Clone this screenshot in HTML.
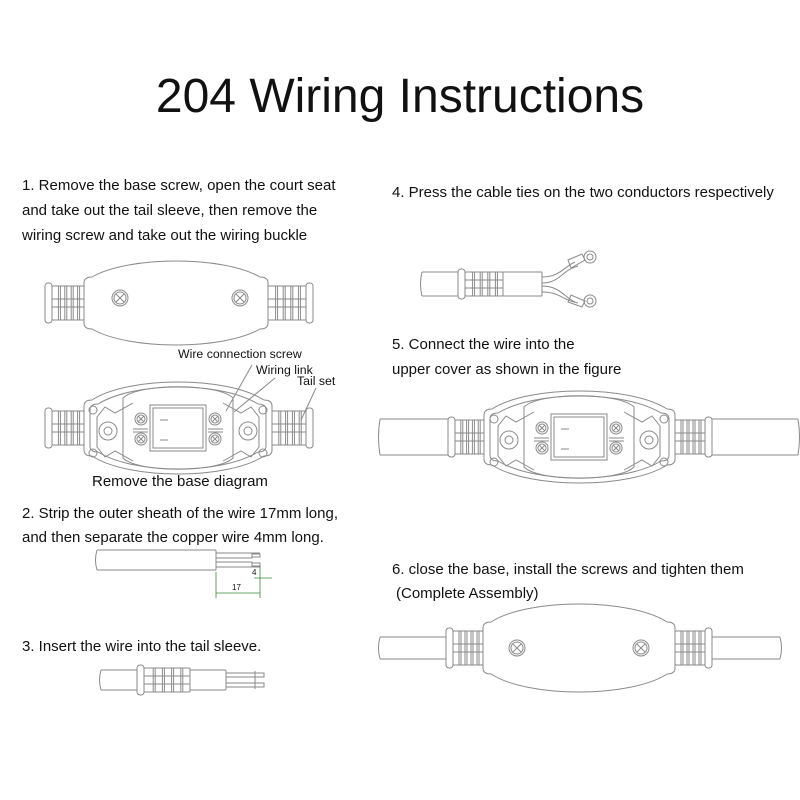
<!DOCTYPE html>
<html><head><meta charset="utf-8"><style>
body{margin:0;background:#fff;}
svg{display:block}
text{font-family:"Liberation Sans",sans-serif;fill:#111}
</style></head><body>
<svg id="s" width="800" height="800" viewBox="0 0 800 800" xmlns="http://www.w3.org/2000/svg">
<rect width="800" height="800" fill="#fff"/>
<text x="400" y="112" font-size="48" text-anchor="middle">204 Wiring Instructions</text>
<g font-size="15">
<text x="22" y="190">1. Remove the base screw, open the court seat</text>
<text x="22" y="215">and take out the tail sleeve, then remove the</text>
<text x="22" y="240">wiring screw and take out the wiring buckle</text>
<text x="392" y="197">4. Press the cable ties on the two conductors respectively</text>
<text x="392" y="349">5. Connect the wire into the</text>
<text x="392" y="374">upper cover as shown in the figure</text>
<text x="92" y="486">Remove the base diagram</text>
<text x="22" y="518">2. Strip the outer sheath of the wire 17mm long,</text>
<text x="22" y="542">and then separate the copper wire 4mm long.</text>
<text x="392" y="574">6. close the base, install the screws and tighten them</text>
<text x="396" y="598">(Complete Assembly)</text>
<text x="22" y="651">3. Insert the wire into the tail sleeve.</text>
</g>
<g font-size="12.3">
<text x="178" y="358">Wire connection screw</text>
<text x="256" y="374">Wiring link</text>
<text x="297" y="385">Tail set</text>
</g>
<g id="g" fill="none" stroke="#8a8a8a" stroke-width="1"></g>
</svg>
<script>
var g=document.getElementById('g'),o='';
function P(d,extra){o+='<path d="'+d+'" '+(extra||'')+'/>';}
function R(x,y,w,h,rx){o+='<rect x="'+x+'" y="'+y+'" width="'+w+'" height="'+h+'" rx="'+(rx||0)+'"/>';}
function C(x,y,r){o+='<circle cx="'+x+'" cy="'+y+'" r="'+r+'"/>';}
function L(a,b,c,d){o+='<line x1="'+a+'" y1="'+b+'" x2="'+c+'" y2="'+d+'"/>';}
function body(Lx,Rx,cy,hs,ht){var k=hs+(ht-hs)/0.75;
P('M'+Lx+','+(cy-hs+6)+' Q'+Lx+','+(cy-hs)+' '+(Lx+8)+','+(cy-hs)+' C'+(Lx+45)+','+(cy-k)+' '+(Rx-45)+','+(cy-k)+' '+(Rx-8)+','+(cy-hs)+' Q'+Rx+','+(cy-hs)+' '+Rx+','+(cy-hs+6)+' L'+Rx+','+(cy+hs-6)+' Q'+Rx+','+(cy+hs)+' '+(Rx-8)+','+(cy+hs)+' C'+(Rx-45)+','+(cy+k)+' '+(Lx+45)+','+(cy+k)+' '+(Lx+8)+','+(cy+hs)+' Q'+Lx+','+(cy+hs)+' '+Lx+','+(cy+hs-6)+' Z');}
function screw(x,y,r){C(x,y,r);C(x,y,r-2);L(x-r*0.5,y-r*0.5,x+r*0.5,y+r*0.5);L(x-r*0.5,y+r*0.5,x+r*0.5,y-r*0.5);}
function tail(x1,x2,cy,h,flip){var w=x2-x1;
 var fx=flip?x2-7:x1; R(fx,cy-h,7,2*h,3);
 var bx=flip?x1:x1+7, bw=w-7; R(bx,cy-h+3,bw,2*h-6,1);
 for(var i=1;i<5;i++){var xx=bx+bw*i/5;L(xx,cy-h+3,xx,cy+h-3);L(xx+2,cy-h+3,xx+2,cy+h-3);}
 L(bx,cy-4,bx+bw,cy-4);L(bx,cy+4,bx+bw,cy+4);}
function cable(x1,x2,cy,h){L(x1,cy-h,x2,cy-h);L(x1,cy+h,x2,cy+h);P('M'+x1+','+(cy-h)+' q-3,'+h+' 0,'+(2*h));}
function inner(cx,cy){
 P('M'+(cx-55)+','+(cy-30)+' C'+(cx-40)+','+(cy-45)+' '+(cx+40)+','+(cy-45)+' '+(cx+55)+','+(cy-30)+' L'+(cx+55)+','+(cy+30)+' C'+(cx+40)+','+(cy+45)+' '+(cx-40)+','+(cy+45)+' '+(cx-55)+','+(cy+30)+'Z');
 R(cx-28,cy-23,56,46,0);R(cx-25,cy-20,50,40,0);
 L(cx-18,cy-8,cx-10,cy-8);L(cx-18,cy+12,cx-10,cy+12);
 [-1,1].forEach(function(s){screw(cx+s*37,cy-9,6);screw(cx+s*37,cy+11,6);
  C(cx+s*70,cy+3,9);C(cx+s*70,cy+3,4);
  P('M'+(cx+s*45)+','+(cy-25)+' l'+(s*18)+',10 l'+(s*10)+',-6 l'+(s*8)+',10 l0,30 l'+(-s*8)+',10 l'+(-s*10)+',-6 l'+(-s*18)+',10');
  L(cx+s*45,cy+1,cx+s*30,cy+1);L(cx+s*45,cy+4,cx+s*30,cy+4);
  C(cx+s*85,cy-18,4);C(cx+s*85,cy+25,4);});}
tail(45,84,303,20,false);tail(268,313,303,20,true);
body(84,268,303,26,42);screw(120,298,8);screw(240,298,8);
tail(45,84,428,20,false);tail(272,313,428,20,true);
body(84,272,428,28,46);body(90,266,428,24,41);inner(178,428);
L(226,411,252,365);L(234,412,275,378);L(301,420,316,388);
cable(380,448,437,18);L(712,419,798,419);L(712,455,798,455);P('M798,419 q3,18 0,36');
tail(448,484,437,20,false);tail(675,712,437,20,true);
body(484,675,437,28,46);body(490,669,437,24,41);inner(579,437);
cable(380,446,648,11);L(712,637,780,637);L(712,659,780,659);P('M780,637 q3,11 0,22');
tail(446,483,648,20,false);tail(675,712,648,20,true);
body(483,675,648,26,44);screw(517,648,8);screw(641,648,8);
cable(422,458,284,12);tail(458,503,284,15,false);
L(503,272,542,272);L(503,296,542,296);L(542,272,542,296);
P('M542,277 C560,277 565,266 575,262');P('M542,283 C560,283 562,270 578,266');
P('M542,286 C560,286 565,298 575,302');P('M542,292 C560,292 562,300 578,303');
C(590,257,6);C(590,257,3);C(590,301,6);C(590,301,3);
P('M568,260 l14,-6 l3,6 l-14,8z');P('M568,302 l14,5 l3,-6 l-14,-6z');
cable(97,216,560,10);L(216,550,216,570);
R(216,553,36,5,0);R(216,562,36,5,0);L(252,553,260,553);L(252,567,260,567);
R(252,554,8,3,0);R(252,563,8,3,0);
o+='<g stroke="#3a8a3a" stroke-width="0.8">';
L(216,572,216,598);L(260,566,260,598);L(254,578,272,578);L(216,593,260,593);
o+='</g>';
o+='<text x="252" y="575" font-size="8" fill="#3a8a3a" stroke="none" font-family="Liberation Serif">4</text>';
o+='<text x="232" y="590" font-size="8" fill="#3a8a3a" stroke="none" font-family="Liberation Serif">17</text>';
cable(101,137,680,10);tail(137,190,680,15,false);
L(190,670,226,670);L(190,690,226,690);L(226,670,226,690);
R(226,673,38,4,0);R(226,683,38,4,0);L(255,671,255,689);
g.innerHTML=o;
</script>
</body></html>
